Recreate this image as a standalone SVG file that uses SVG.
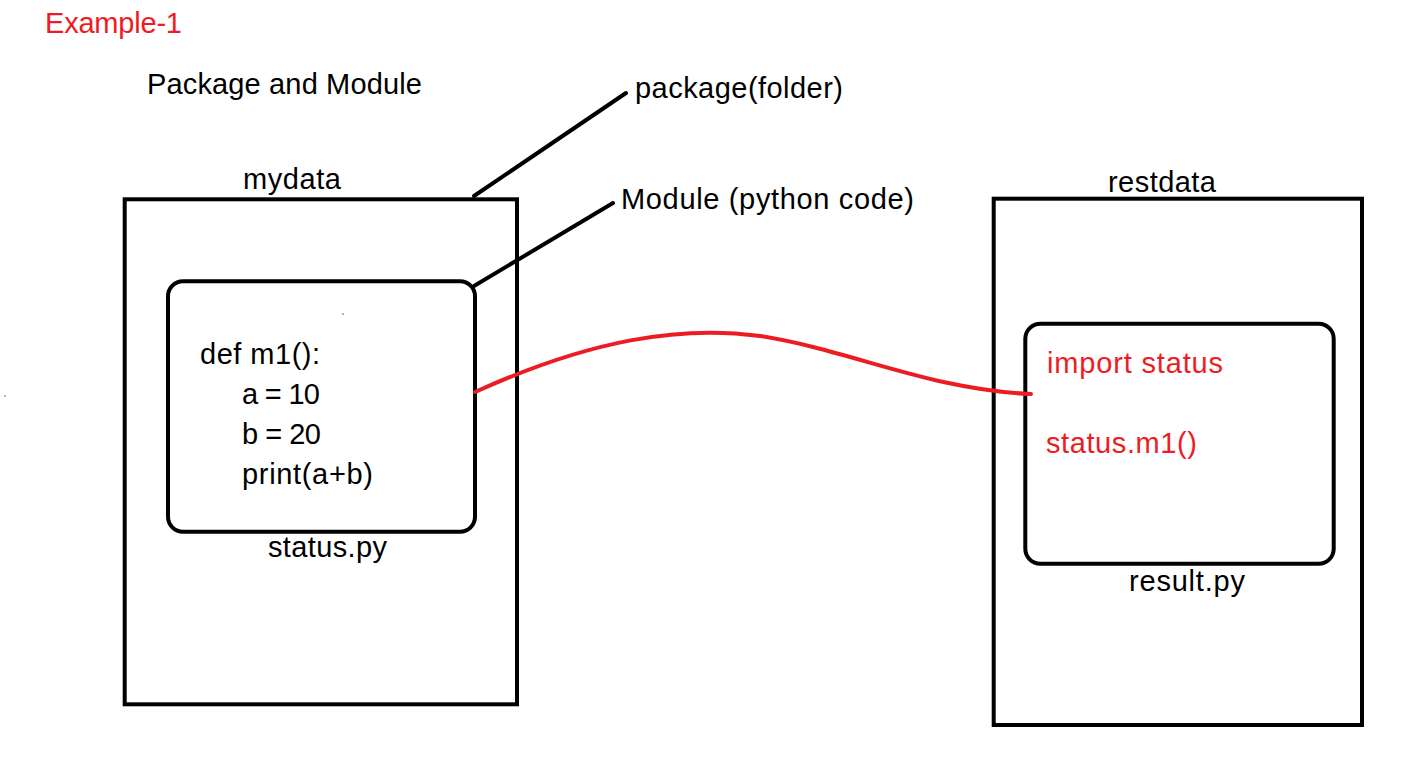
<svg xmlns="http://www.w3.org/2000/svg" width="1405" height="777" viewBox="0 0 1405 777">
<style>
  text { font-family: "Liberation Sans", Arial, sans-serif; font-size: 29px; fill: #000; }
  .red { fill: #ED1C24; }
  .box { fill: none; stroke: #000; stroke-width: 4; }
  .lead { stroke: #000; stroke-width: 4; stroke-linecap: round; fill: none; }
  .link { stroke: #ED1C24; stroke-width: 4; stroke-linecap: round; fill: none; }
</style>
<rect width="1405" height="777" fill="#fff"/>
<text class="red" x="45" y="33" textLength="137">Example-1</text>
<text x="147" y="94" textLength="275">Package and Module</text>

<g id="mydata">
  <rect class="box" x="124.7" y="199.3" width="392.3" height="505"/>
  <text x="243" y="189" textLength="98">mydata</text>
</g>
<g id="status">
  <rect class="box" x="168" y="281.3" width="307" height="250.5" rx="15"/>
  <text x="200" y="364" textLength="120">def m1():</text>
  <text x="242" y="404" textLength="78">a = 10</text>
  <text x="242" y="444" textLength="79">b = 20</text>
  <text x="242" y="484" textLength="131">print(a+b)</text>
  <text x="268" y="557" textLength="119">status.py</text>
</g>
<g id="restdata">
  <rect class="box" x="993.7" y="198.7" width="368.3" height="526.3"/>
  <text x="1108" y="192" textLength="108">restdata</text>
</g>
<g id="result">
  <rect class="box" x="1025.3" y="323.7" width="308.4" height="240" rx="15"/>
  <text class="red" x="1047" y="373" textLength="176">import status</text>
  <text class="red" x="1046" y="453" textLength="151">status.m1()</text>
  <text x="1129" y="591" textLength="116">result.py</text>
</g>
<g id="package-label">
  <text x="635" y="98" textLength="208">package(folder)</text>
</g>
<g id="module-label">
  <text x="621" y="209" textLength="293">Module (python code)</text>
</g>

<g id="connectors">
  <path class="lead" d="M474,196 L626,93"/>
  <path class="lead" d="M474,286 L613,203"/>
  <path class="link" d="M475,392 C590,340 680,325 760,336 C850,350 930,390 1031,394"/>
</g>
<circle cx="343" cy="314" r="0.8" fill="#555"/>
<circle cx="5" cy="396" r="0.8" fill="#555"/>
</svg>
